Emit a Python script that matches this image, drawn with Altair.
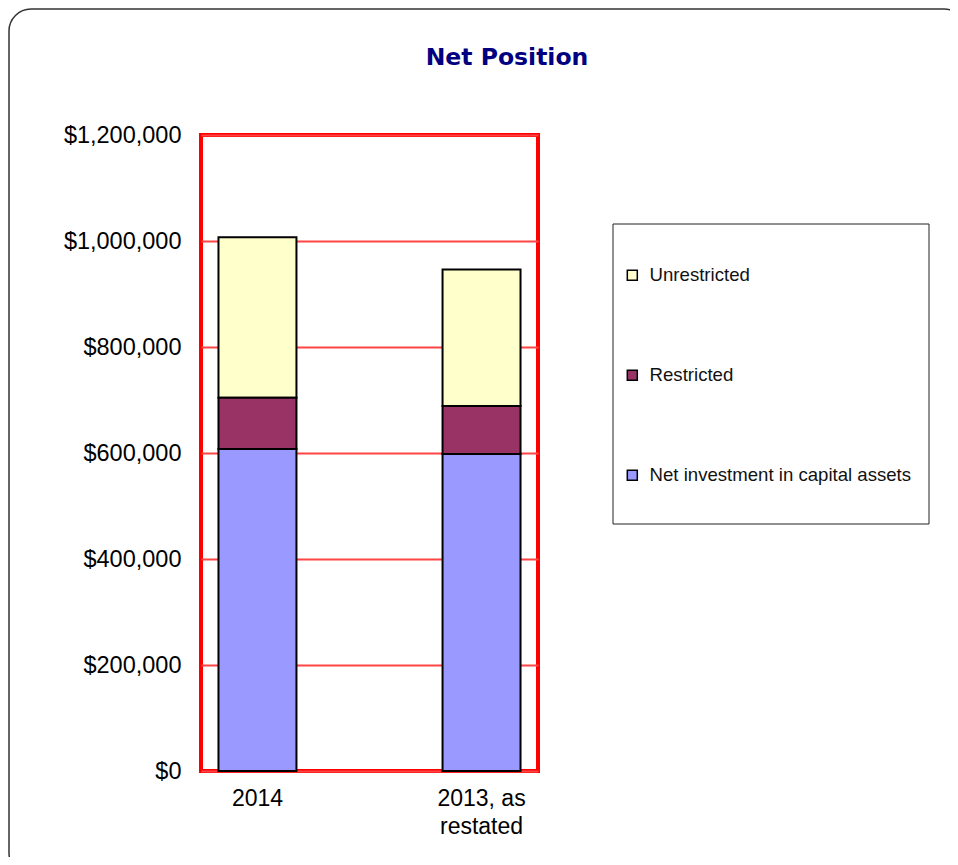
import altair as alt
import pandas as pd

years = ["2014", "2013, as restated"]
components = ["Unrestricted", "Restricted", "Net investment in capital assets"]
stack_rank = [2, 1, 0]
colors = ["#FFFFCC", "#993366", "#9999FF"]
unrestricted = [302900, 257800]
restricted = [96500, 90300]
net_investment = [607700, 598300]
y_ticks = [0, 200000, 400000, 600000, 800000, 1000000, 1200000]

rows = []
for i, yr in enumerate(years):
    for comp, rank, vals in zip(components, stack_rank, [unrestricted, restricted, net_investment]):
        rows.append({"year": yr, "component": comp, "rank": rank, "value": vals[i]})
df = pd.DataFrame(rows)

FONT = "Liberation Sans"

bars = alt.Chart(df).mark_bar(stroke="black", strokeWidth=2).encode(
    x=alt.X("year:N", sort=years,
            scale=alt.Scale(paddingInner=0.652, paddingOuter=0.078),
            axis=alt.Axis(title=None, labelAngle=0, ticks=False, domain=False,
                          labelFont=FONT, labelFontSize=23, labelColor="black",
                          labelPadding=16, labelLineHeight=28,
                          labelExpr="datum.value == '2013, as restated' ? ['2013, as', 'restated'] : datum.label")),
    y=alt.Y("value:Q", stack="zero",
            scale=alt.Scale(domain=[0, 1200000], nice=False),
            axis=alt.Axis(title=None, values=y_ticks, format="$,.0f", ticks=False, domain=False,
                          labelFont=FONT, labelFontSize=23.5, labelColor="black", labelPadding=20,
                          grid=True, gridColor="#ff4444", gridWidth=2, gridOpacity=1)),
    color=alt.Color("component:N",
                    scale=alt.Scale(domain=components, range=colors),
                    legend=alt.Legend(title=None, orient="none", legendX=422, legendY=131,
                                      symbolType="square", symbolSize=100,
                                      symbolStrokeColor="black", symbolStrokeWidth=1.5,
                                      labelFont=FONT, labelFontSize=18.6, labelColor="#111",
                                      labelOffset=8, rowPadding=81, padding=0,
                                      labelLimit=400)),
    order=alt.Order("rank:Q", sort="ascending"),
)

one = alt.Data(values=[{"k": 1}])

frame = alt.Chart(one).mark_rect(fill="transparent", stroke="#333333", strokeWidth=1.5,
                                 cornerRadius=22).encode(
    x=alt.value(-192), x2=alt.value(765), y=alt.value(-126), y2=alt.value(740)
)

legend_box = alt.Chart(one).mark_rect(fill="white", stroke="#222222", strokeWidth=1).encode(
    x=alt.value(412), x2=alt.value(728), y=alt.value(89), y2=alt.value(389)
)

chart = alt.layer(frame, legend_box, bars).properties(
    width=337, height=636,
    autosize=alt.AutoSizeParams(type="none"),
    padding={"left": 193, "top": 127, "right": 412, "bottom": 86},
    title=alt.Title("Net Position", font="DejaVu Sans", fontWeight="bold", fontSize=23.5,
                    color="#000080", anchor="middle", dx=137.5, offset=-80,
                    baseline="alphabetic"),
).configure_view(stroke="#ff0000", strokeWidth=4)

chart.save("out.html", embed_options={"renderer": "svg", "actions": False})
